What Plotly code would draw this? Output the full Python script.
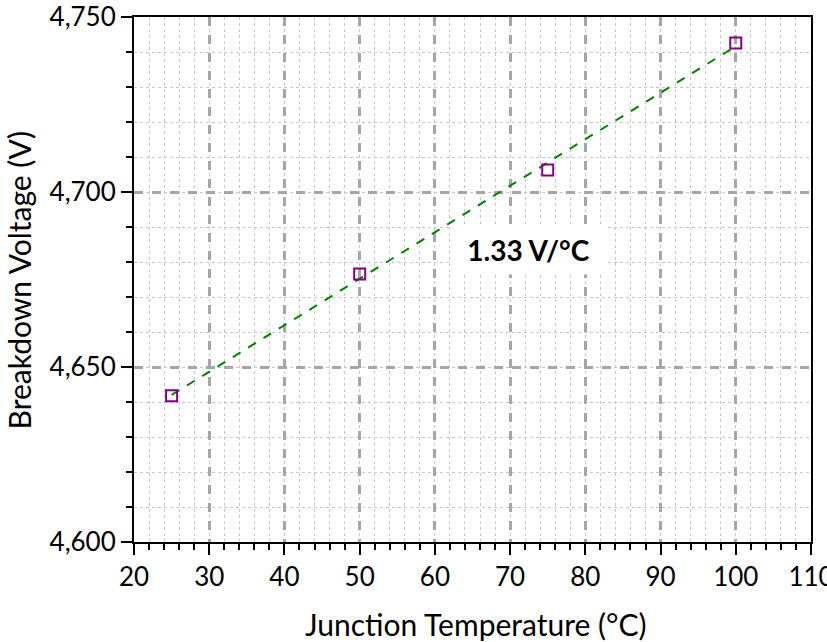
import numpy as np
import plotly.graph_objects as go

temps = [25, 50, 75, 100]
voltages = [4641.8, 4676.6, 4706.3, 4742.6]
x_ticks = [20, 30, 40, 50, 60, 70, 80, 90, 100, 110]
y_ticks = [4600, 4650, 4700, 4750]
slope_label = "1.33 V/°C"
x_title = "Junction Temperature (°C)"
y_title = "Breakdown Voltage (V)"

slope, intercept = np.polyfit(temps, voltages, 1)
fit_x = [temps[0], temps[-1]]
fit_y = [slope * v + intercept for v in fit_x]

FONT = "Lato"
grid_major = "#a6a6a6"
grid_minor = "#c8c8c8"

fig = go.Figure()
fig.add_trace(go.Scatter(
    x=fit_x, y=fit_y, mode="lines",
    line=dict(color="#008000", width=2, dash="dash"),
    showlegend=False, hoverinfo="skip",
))
fig.add_trace(go.Scatter(
    x=temps, y=voltages, mode="markers",
    marker=dict(symbol="square-open", size=11, color="#800080",
                line=dict(width=2, color="#800080")),
    showlegend=False,
))

fig.add_annotation(
    x=72.5, y=4683.5, xref="x", yref="y", text="<b>" + slope_label + "</b>",
    showarrow=False, font=dict(family=FONT, size=28, color="black"),
    bgcolor="white", borderpad=0, width=153, height=48,
)
fig.add_annotation(
    x=0.5045, y=-0.157, xref="paper", yref="paper", text=x_title,
    showarrow=False, xanchor="center", yanchor="middle",
    font=dict(family=FONT, size=30, color="black"),
)
fig.add_annotation(
    x=-0.170, y=0.5, xref="paper", yref="paper", text=y_title,
    showarrow=False, xanchor="center", yanchor="middle", textangle=-90,
    font=dict(family=FONT, size=30, color="black"),
)

axis_common = dict(
    showline=True, linecolor="black", linewidth=2, mirror=True,
    ticks="outside", tickcolor="black", tickwidth=1.5, ticklen=11,
    showgrid=True, gridcolor=grid_major, gridwidth=2.5, griddash="dash",
    zeroline=False, ticklabeloverflow="allow",
    tickfont=dict(family=FONT, size=26, color="black"),
)

fig.update_xaxes(
    **axis_common,
    range=[20, 110], tickvals=x_ticks, ticktext=[str(v) for v in x_ticks],
    minor=dict(dtick=2, showgrid=True, gridcolor=grid_minor, gridwidth=1,
               griddash="dot", ticks="outside", ticklen=6, tickcolor="black",
               tickwidth=1.5),
)
fig.update_yaxes(
    **axis_common,
    range=[4600, 4750], tickvals=y_ticks,
    ticktext=[f"{v:,}" for v in y_ticks],
    minor=dict(dtick=10, showgrid=True, gridcolor=grid_minor, gridwidth=1,
               griddash="dot", ticks="outside", ticklen=6, tickcolor="black",
               tickwidth=1.5),
)

fig.update_layout(
    width=827, height=642,
    margin=dict(l=134, r=16, t=17, b=100, autoexpand=False),
    plot_bgcolor="white", paper_bgcolor="white",
    font=dict(family=FONT),
)

fig.write_html(
    "out.html",
    config={"displayModeBar": False},
    post_script="document.body.style.margin='0';document.body.style.overflow='hidden';",
)
